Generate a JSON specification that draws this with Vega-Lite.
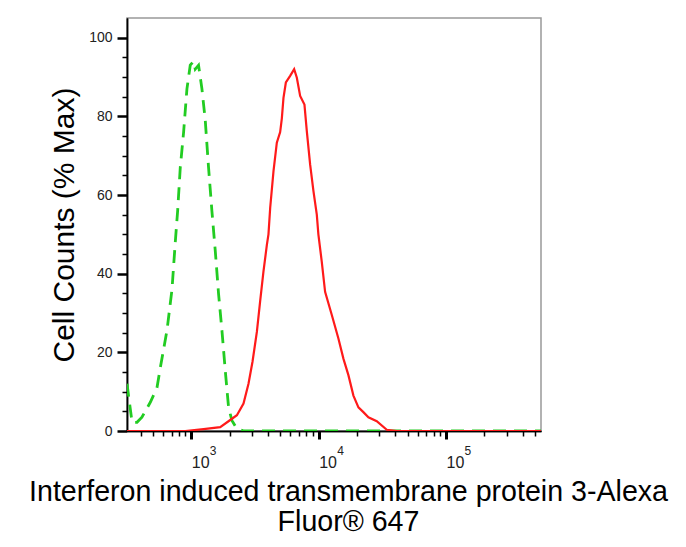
{
  "$schema": "https://vega.github.io/schema/vega-lite/v6.json",
  "width": 414,
  "height": 413,
  "autosize": {"type": "none"},
  "padding": {"left": 127, "top": 18, "right": 145, "bottom": 116},
  "background": "white",
  "config": {
    "font": "Liberation Sans",
    "view": {"stroke": "#999999", "strokeWidth": 1.5},
    "axis": {"grid": false, "domainColor": "#000000", "domainWidth": 1.5, "tickColor": "#000000"}
  },
  "datasets": {
    "isotype": [
      {"fl": 313, "pct": 12}, {"fl": 343, "pct": 2.2}, {"fl": 375, "pct": 2.2}, {"fl": 410, "pct": 3.5},
      {"fl": 477, "pct": 7.3}, {"fl": 538, "pct": 11}, {"fl": 571, "pct": 16}, {"fl": 645, "pct": 25.6},
      {"fl": 706, "pct": 36}, {"fl": 749, "pct": 48}, {"fl": 782, "pct": 56}, {"fl": 820, "pct": 67},
      {"fl": 871, "pct": 76}, {"fl": 925, "pct": 87}, {"fl": 982, "pct": 93}, {"fl": 1042, "pct": 94},
      {"fl": 1075, "pct": 92}, {"fl": 1141, "pct": 93}, {"fl": 1213, "pct": 87}, {"fl": 1288, "pct": 79},
      {"fl": 1367, "pct": 67}, {"fl": 1452, "pct": 56}, {"fl": 1542, "pct": 46}, {"fl": 1637, "pct": 35},
      {"fl": 1741, "pct": 25.6}, {"fl": 1849, "pct": 15.4}, {"fl": 1963, "pct": 6}, {"fl": 2085, "pct": 2.7},
      {"fl": 2281, "pct": 0.6}, {"fl": 2600, "pct": 0}, {"fl": 557000, "pct": 0}
    ],
    "sample": [
      {"fl": 313, "pct": 0}, {"fl": 897, "pct": 0}, {"fl": 1249, "pct": 0.5}, {"fl": 1688, "pct": 1},
      {"fl": 2023, "pct": 2.8}, {"fl": 2282, "pct": 4}, {"fl": 2572, "pct": 7}, {"fl": 2814, "pct": 12},
      {"fl": 3026, "pct": 17.6}, {"fl": 3274, "pct": 25.2}, {"fl": 3475, "pct": 33}, {"fl": 3688, "pct": 40.5},
      {"fl": 3923, "pct": 47.3}, {"fl": 4038, "pct": 50}, {"fl": 4165, "pct": 56.7}, {"fl": 4421, "pct": 66},
      {"fl": 4697, "pct": 73.3}, {"fl": 4989, "pct": 76}, {"fl": 5143, "pct": 79.5}, {"fl": 5297, "pct": 84.7},
      {"fl": 5531, "pct": 88.6}, {"fl": 5976, "pct": 90.3}, {"fl": 6425, "pct": 92}, {"fl": 6745, "pct": 89.8},
      {"fl": 7161, "pct": 85.2}, {"fl": 7740, "pct": 83}, {"fl": 8080, "pct": 76.2}, {"fl": 8579, "pct": 67.7},
      {"fl": 9107, "pct": 61}, {"fl": 9675, "pct": 55}, {"fl": 9956, "pct": 50}, {"fl": 10586, "pct": 43},
      {"fl": 11241, "pct": 35.4}, {"fl": 12691, "pct": 29.5}, {"fl": 14298, "pct": 23.5}, {"fl": 15649, "pct": 18.4},
      {"fl": 17131, "pct": 14.2}, {"fl": 18758, "pct": 9}, {"fl": 20534, "pct": 6}, {"fl": 22457, "pct": 4.8},
      {"fl": 24590, "pct": 3.5}, {"fl": 28608, "pct": 2.5}, {"fl": 34276, "pct": 0.3}, {"fl": 41042, "pct": 0},
      {"fl": 557000, "pct": 0}
    ]
  },
  "layer": [
    {
      "data": {"name": "isotype"},
      "mark": {"type": "line", "color": "#22cc22", "strokeWidth": 2.8, "strokeDash": [13, 8], "clip": true},
      "encoding": {
        "x": {
          "field": "fl", "type": "quantitative",
          "scale": {"type": "log", "domain": [313, 557000], "nice": false},
          "axis": {
            "orient": "bottom", "values": [1000, 10000, 100000], "labelExpr": "'10'",
            "tickSize": 8, "tickWidth": 3, "labelFontSize": 16, "labelColor": "#222222",
            "labelAlign": "left", "labelOffset": 0, "labelPadding": 15, "labelFlush": false,
            "title": ["Interferon induced transmembrane protein 3-Alexa", "Fluor® 647"],
            "titleFontSize": 28.6, "titleFontWeight": "normal", "titleColor": "#000000",
            "titleLineHeight": 30, "titlePadding": 7, "titleX": 221
          }
        },
        "y": {
          "field": "pct", "type": "quantitative",
          "scale": {"domain": [0, 105], "nice": false},
          "axis": {
            "orient": "left", "values": [0, 20, 40, 60, 80, 100],
            "tickSize": 10, "tickWidth": 2.5, "labelFontSize": 14, "labelColor": "#222222",
            "labelPadding": 5, "labelFlush": false,
            "title": "Cell Counts (% Max)", "titleFontSize": 30, "titleFontWeight": "normal",
            "titleColor": "#000000", "titlePadding": 9
          }
        }
      }
    },
    {
      "data": {"name": "sample"},
      "mark": {"type": "line", "color": "#ff1a1a", "strokeWidth": 2.2, "clip": true},
      "encoding": {
        "x": {
          "field": "fl", "type": "quantitative",
          "axis": {
            "orient": "bottom",
            "values": [400, 500, 600, 700, 800, 900, 2000, 3000, 4000, 5000, 6000, 7000, 8000, 9000,
                       20000, 30000, 40000, 50000, 60000, 70000, 80000, 90000, 200000, 300000, 400000, 500000],
            "labels": false, "tickSize": 5, "tickWidth": 1.5, "title": null
          }
        },
        "y": {
          "field": "pct", "type": "quantitative",
          "axis": {
            "orient": "left",
            "values": [5, 10, 15, 25, 30, 35, 45, 50, 55, 65, 70, 75, 85, 90, 95],
            "labels": false, "tickSize": 5, "tickWidth": 1.5, "title": null
          }
        }
      }
    },
    {
      "data": {"name": "sample"},
      "mark": {"type": "point", "opacity": 0},
      "encoding": {
        "x": {
          "field": "fl", "type": "quantitative",
          "axis": {
            "orient": "bottom", "values": [1000, 10000, 100000],
            "labelExpr": "format(log(datum.value) / log(10), '.0f')",
            "ticks": false, "tickSize": 0, "domain": false,
            "labelFontSize": 12, "labelColor": "#222222", "labelAlign": "left",
            "labelOffset": 18, "labelPadding": 14, "labelFlush": false, "title": null
          }
        },
        "y": {"field": "pct", "type": "quantitative", "axis": null}
      }
    }
  ],
  "resolve": {"axis": {"x": "independent", "y": "independent"}}
}
